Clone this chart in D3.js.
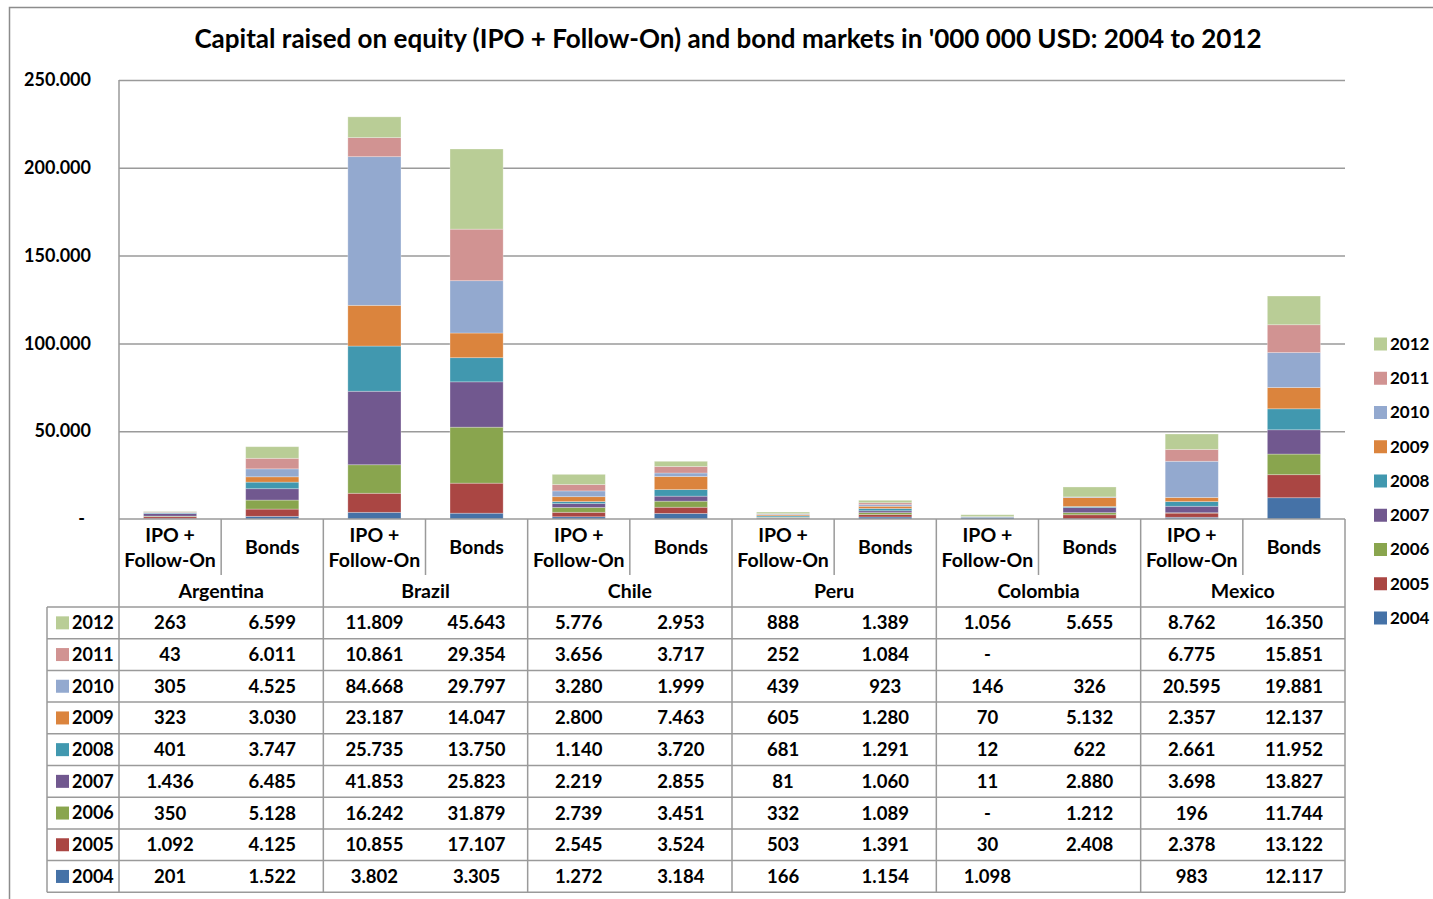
<!DOCTYPE html>
<html>
<head>
<meta charset="utf-8">
<script src="https://cdn.jsdelivr.net/npm/d3@7"></script>
<style>
body { margin: 0; background: #fff; }
text { font-family: Lato, "Open Sans", sans-serif; font-weight: bold; fill: #000; }
</style>
</head>
<body>
<div id="chart"></div>
<script>

var countries = ["Argentina", "Brazil", "Chile", "Peru", "Colombia", "Mexico"];
var kinds = ["IPO + Follow-On", "Bonds"];
var years = ["2004", "2005", "2006", "2007", "2008", "2009", "2010", "2011", "2012"];
var colors = ["#4572A7", "#AA4643", "#89A54E", "#71588F", "#4198AF", "#DB843D", "#93A9CF", "#D19392", "#B9CD96"];

// one value per column: Argentina IPO, Argentina Bonds, Brazil IPO, ... Mexico Bonds
// 0 is shown as "-" in the table, null is an empty cell
var v2004 = [201, 1522, 3802, 3305, 1272, 3184, 166, 1154, 1098, null, 983, 12117];
var v2005 = [1092, 4125, 10855, 17107, 2545, 3524, 503, 1391, 30, 2408, 2378, 13122];
var v2006 = [350, 5128, 16242, 31879, 2739, 3451, 332, 1089, 0, 1212, 196, 11744];
var v2007 = [1436, 6485, 41853, 25823, 2219, 2855, 81, 1060, 11, 2880, 3698, 13827];
var v2008 = [401, 3747, 25735, 13750, 1140, 3720, 681, 1291, 12, 622, 2661, 11952];
var v2009 = [323, 3030, 23187, 14047, 2800, 7463, 605, 1280, 70, 5132, 2357, 12137];
var v2010 = [305, 4525, 84668, 29797, 3280, 1999, 439, 923, 146, 326, 20595, 19881];
var v2011 = [43, 6011, 10861, 29354, 3656, 3717, 252, 1084, 0, null, 6775, 15851];
var v2012 = [263, 6599, 11809, 45643, 5776, 2953, 888, 1389, 1056, 5655, 8762, 16350];

var yTicks = [0, 50000, 100000, 150000, 200000, 250000];

var byYear = {
    "2004": v2004, "2005": v2005, "2006": v2006, "2007": v2007, "2008": v2008,
    "2009": v2009, "2010": v2010, "2011": v2011, "2012": v2012
};

var width = 1433, height = 899;
var plotLeft = 119, plotRight = 1345, plotTop = 80, plotBase = 519;
var tableTop = 607, rowH = 31.7, tableLeft = 47, innerTick = 575;
var lineCol = "#9a9a9a";
var labelSize = "19.5px";

var columns = [];
countries.forEach(function(c) {
    kinds.forEach(function(k) {
        columns.push({country: c, kind: k, key: c + "|" + k});
    });
});

var rows = columns.map(function(col, i) {
    var o = {key: col.key};
    years.forEach(function(yr) { o[yr] = byYear[yr][i] || 0; });
    return o;
});

var series = d3.stack().keys(years)(rows);
var color = d3.scaleOrdinal().domain(years).range(colors);

var xCol = d3.scaleBand().domain(columns.map(function(d) { return d.key; })).range([plotLeft, plotRight]);
var x = d3.scaleBand().domain(xCol.domain()).range([plotLeft, plotRight]).paddingInner(0.48).paddingOuter(0.24);
var y = d3.scaleLinear().domain([0, 250000]).range([plotBase, plotTop]);

function fmt(v) {
    if (v === null) return "";
    if (v === 0) return "-";
    return d3.format(",")(v).replace(/,/g, ".");
}

var svg = d3.select("#chart").append("svg")
    .attr("width", width)
    .attr("height", height);

// outer chart frame
svg.append("path")
    .attr("d", "M9.5," + height + " V7.5 H" + width)
    .attr("fill", "none")
    .attr("stroke", "#8c8c8c")
    .attr("stroke-width", 1.5);

// title
svg.append("text")
    .attr("x", 728)
    .attr("y", 48)
    .attr("text-anchor", "middle")
    .style("font-size", "24px")
    .text("Capital raised on equity (IPO + Follow-On) and bond markets in '000 000 USD: 2004 to 2012")
    .each(function() {
        var w = this.getComputedTextLength();
        d3.select(this).style("font-size", (24 * 1068 / w) + "px");
    });

// gridlines
var grid = svg.append("g")
    .attr("transform", "translate(" + plotLeft + ",0)")
    .call(d3.axisLeft(y).tickValues(yTicks.slice(1)).tickSize(-(plotRight - plotLeft)).tickFormat(""));
grid.select(".domain").remove();
grid.selectAll("line").attr("stroke", lineCol).attr("stroke-width", 1.5);

// y labels
var yAxis = svg.append("g")
    .attr("transform", "translate(91,0)")
    .call(d3.axisLeft(y).tickValues(yTicks).tickSize(0).tickPadding(0)
        .tickFormat(function(d) { return d === 0 ? "-" : fmt(d); }));
yAxis.select(".domain").remove();
yAxis.selectAll("text")
    .attr("font-family", null)
    .attr("font-size", null)
    .style("font-size", "18px")
    .attr("dx", function(d) { return d === 0 ? -6 : 0; });

// stacked bars
svg.append("g").selectAll("g")
    .data(series).enter().append("g")
    .attr("fill", function(d) { return color(d.key); })
    .selectAll("rect")
    .data(function(d) { return d; }).enter().append("rect")
    .attr("x", function(d) { return x(d.data.key); })
    .attr("width", x.bandwidth())
    .attr("y", function(d) { return y(d[1]); })
    .attr("height", function(d) { return y(d[0]) - y(d[1]); })
    .attr("stroke", "#fff")
    .attr("stroke-opacity", 0.35)
    .attr("stroke-width", 0.8);

// category axis + data table lines
var lines = svg.append("g")
    .attr("stroke", lineCol)
    .attr("stroke-width", 1.5);

var tableBottom = tableTop + rowH * years.length;

lines.append("line")
    .attr("x1", plotLeft).attr("x2", plotLeft)
    .attr("y1", plotTop).attr("y2", tableBottom);
lines.append("line")
    .attr("x1", plotLeft).attr("x2", plotRight)
    .attr("y1", plotBase).attr("y2", plotBase);

columns.forEach(function(col, i) {
    if (i == 0) return;
    lines.append("line")
        .attr("x1", xCol(col.key)).attr("x2", xCol(col.key))
        .attr("y1", plotBase).attr("y2", i % 2 ? innerTick : tableBottom);
});
lines.append("line")
    .attr("x1", plotRight).attr("x2", plotRight)
    .attr("y1", plotBase).attr("y2", tableBottom);
lines.append("line")
    .attr("x1", tableLeft).attr("x2", tableLeft)
    .attr("y1", tableTop).attr("y2", tableBottom);

d3.range(years.length + 1).forEach(function(r) {
    lines.append("line")
        .attr("x1", tableLeft).attr("x2", plotRight)
        .attr("y1", tableTop + r * rowH).attr("y2", tableTop + r * rowH);
});

// column labels
var catLabels = svg.append("g").style("font-size", labelSize).attr("text-anchor", "middle");
columns.forEach(function(col) {
    var cx = xCol(col.key) + xCol.bandwidth() / 2;
    if (col.kind == "Bonds") {
        catLabels.append("text").attr("x", cx).attr("y", 547).attr("dy", "0.35em").text("Bonds");
    } else {
        catLabels.append("text").attr("x", cx).attr("y", 535).attr("dy", "0.35em").text("IPO +");
        catLabels.append("text").attr("x", cx).attr("y", 560).attr("dy", "0.35em").text("Follow-On");
    }
});
countries.forEach(function(c) {
    var x0 = xCol(c + "|" + kinds[0]);
    catLabels.append("text")
        .attr("x", x0 + xCol.bandwidth())
        .attr("y", 591)
        .attr("dy", "0.35em")
        .text(c);
});

// data table rows, 2012 on top
var tableYears = years.slice().reverse();
var trows = svg.append("g").selectAll("g")
    .data(tableYears).enter().append("g")
    .attr("transform", function(d, i) { return "translate(0," + (tableTop + rowH * (i + 0.5)) + ")"; });

trows.append("rect")
    .attr("x", 56).attr("y", -6.5)
    .attr("width", 13).attr("height", 13)
    .attr("fill", function(d) { return color(d); });
trows.append("text")
    .attr("x", 72).attr("dy", "0.35em")
    .style("font-size", "18px")
    .text(function(d) { return d; });

trows.selectAll("text.cell")
    .data(function(yr) { return byYear[yr].map(function(v, i) { return {v: v, key: columns[i].key}; }); })
    .enter().append("text")
    .attr("class", "cell")
    .attr("x", function(d) { return xCol(d.key) + xCol.bandwidth() / 2; })
    .attr("dy", "0.35em")
    .attr("text-anchor", "middle")
    .style("font-size", "18.5px")
    .text(function(d) { return fmt(d.v); });

// legend on the right
var legend = svg.append("g").selectAll("g")
    .data(tableYears).enter().append("g")
    .attr("transform", function(d, i) { return "translate(1374," + (344 + i * 34.25) + ")"; });
legend.append("rect")
    .attr("y", -6.5).attr("width", 13).attr("height", 13)
    .attr("fill", function(d) { return color(d); });
legend.append("text")
    .attr("x", 16).attr("dy", "0.35em")
    .style("font-size", "17px")
    .text(function(d) { return d; });

</script>
</body>
</html>
